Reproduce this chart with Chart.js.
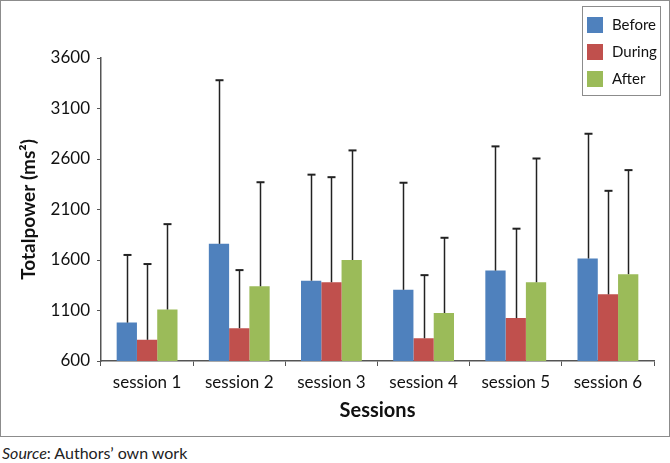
<!DOCTYPE html>
<html>
<head>
<meta charset="utf-8">
<script src="https://cdn.jsdelivr.net/npm/chart.js@4.4.1/dist/chart.umd.min.js"></script>
<style>
  html, body { margin: 0; padding: 0; background: #fff; }
  #frame {
    position: absolute; left: 0; top: 0;
    width: 668px; height: 435px;
    border: 1px solid #8c8c8c;
  }
  #source {
    position: absolute; left: 2px; top: 443px;
    font-family: Lato, sans-serif; font-size: 16px; color: #222;
  }
</style>
</head>
<body>
<div id="frame"><canvas id="chart" width="668" height="435"></canvas></div>
<div id="source"><i>Source</i>: Authors’ own work</div>
<script>
  const sessions = ['session 1', 'session 2', 'session 3', 'session 4', 'session 5', 'session 6'];
  const before = [980, 1760, 1395, 1305, 1495, 1615];
  const during = [810, 925, 1380, 825, 1025, 1260];
  const after = [1110, 1340, 1600, 1075, 1380, 1460];
  // upper error bar lengths (SD)
  const beforeSD = [670, 1620, 1050, 1060, 1230, 1235];
  const duringSD = [750, 575, 1040, 625, 885, 1025];
  const afterSD = [845, 1030, 1085, 745, 1225, 1030];
  const yTicks = [600, 1100, 1600, 2100, 2600, 3100, 3600];

  const fontFam = 'Lato, sans-serif';

  // draws upward error bars from the top of each bar
  const errorBars = {
    id: 'errorBars',
    afterDatasetsDraw(chart) {
      const ctx = chart.ctx;
      const yScale = chart.scales.y;
      ctx.save();
      ctx.strokeStyle = '#222';
      chart.data.datasets.forEach((ds, i) => {
        const meta = chart.getDatasetMeta(i);
        meta.data.forEach((bar, j) => {
          const top = yScale.getPixelForValue(ds.data[j] + ds.sd[j]);
          const x = Math.round(bar.x) + 0.5;
          ctx.lineWidth = 1.5;
          ctx.beginPath();
          ctx.moveTo(x, bar.y);
          ctx.lineTo(x, top);
          ctx.stroke();
          ctx.lineWidth = 2;
          ctx.beginPath();
          ctx.moveTo(x - 4, top);
          ctx.lineTo(x + 4, top);
          ctx.stroke();
        });
      });
      ctx.restore();
    }
  };

  // boxed legend in the top right corner
  const boxLegend = {
    id: 'boxLegend',
    afterDraw(chart) {
      const ctx = chart.ctx;
      ctx.save();
      ctx.strokeStyle = '#8c8c8c';
      ctx.lineWidth = 1;
      ctx.strokeRect(581.5, 5.5, 78, 89);
      ctx.font = '15px ' + fontFam;
      ctx.textBaseline = 'middle';
      chart.data.datasets.forEach((ds, i) => {
        const y = 16 + i * 27;
        ctx.fillStyle = ds.backgroundColor;
        ctx.fillRect(586, y, 16, 16);
        ctx.fillStyle = '#111';
        ctx.fillText(ds.label, 611, y + 8);
      });
      ctx.restore();
    }
  };

  new Chart(document.getElementById('chart'), {
    type: 'bar',
    data: {
      labels: sessions,
      datasets: [
        { label: 'Before', data: before, sd: beforeSD, backgroundColor: '#4F81BD' },
        { label: 'During', data: during, sd: duringSD, backgroundColor: '#C0504D' },
        { label: 'After', data: after, sd: afterSD, backgroundColor: '#9BBB59' }
      ]
    },
    options: {
      responsive: false,
      animation: false,
      events: [],
      layout: { padding: { left: 0, right: 15, top: 57, bottom: 0 } },
      datasets: { bar: { categoryPercentage: 0.66, barPercentage: 1 } },
      plugins: {
        legend: { display: false },
        tooltip: { enabled: false }
      },
      scales: {
        x: {
          grid: { drawOnChartArea: false, drawTicks: true, tickLength: 5, color: '#555', offset: true },
          border: { color: '#555', width: 1.5 },
          ticks: { color: '#111', font: { family: fontFam, size: 17 }, padding: 6, maxRotation: 0 },
          title: { display: true, text: 'Sessions', color: '#111', font: { family: fontFam, size: 20, weight: 'bold' }, padding: { top: 0, bottom: 13 } },
          afterFit(scale) { scale.height = 75; }
        },
        y: {
          min: 600,
          max: 3600,
          afterBuildTicks(scale) { scale.ticks = yTicks.map(v => ({ value: v })); },
          grid: { drawOnChartArea: false, drawTicks: true, tickLength: 4, color: '#555' },
          border: { color: '#555', width: 1.5 },
          ticks: { color: '#111', font: { family: fontFam, size: 17 }, padding: 7, callback: v => String(v) },
          title: { display: true, text: 'Totalpower (ms²)', color: '#111', font: { family: fontFam, size: 19, weight: 'bold' }, padding: { top: 16, bottom: 0 } },
          afterFit(scale) { scale.width = 100; }
        }
      }
    },
    plugins: [errorBars, boxLegend]
  });
</script>
</body>
</html>
